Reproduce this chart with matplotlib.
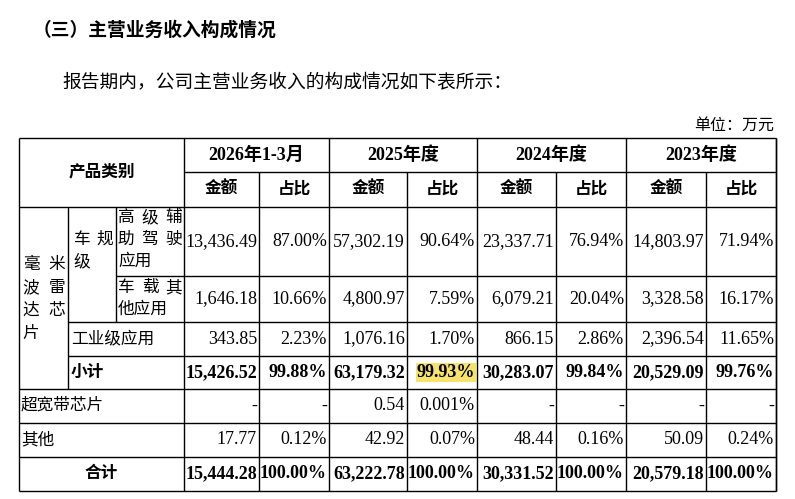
import matplotlib
matplotlib.use('Agg')
import matplotlib.pyplot as plt

FAM = ['Liberation Serif', 'Noto Sans CJK SC', 'DejaVu Sans']
plt.rcParams['font.family'] = FAM

# ─── Data ─────────────────────────────────────────────
periods = ['2026年1-3月', '2025年度', '2024年度', '2023年度']
row_labels = ['高级辅助驾驶应用', '车载其他应用', '工业级应用', '小计', '超宽带芯片', '其他', '合计']
amounts = [
    ['13,436.49', '57,302.19', '23,337.71', '14,803.97'],
    ['1,646.18', '4,800.97', '6,079.21', '3,328.58'],
    ['343.85', '1,076.16', '866.15', '2,396.54'],
    ['15,426.52', '63,179.32', '30,283.07', '20,529.09'],
    ['-', '0.54', '-', '-'],
    ['17.77', '42.92', '48.44', '50.09'],
    ['15,444.28', '63,222.78', '30,331.52', '20,579.18'],
]
shares = [
    ['87.00%', '90.64%', '76.94%', '71.94%'],
    ['10.66%', '7.59%', '20.04%', '16.17%'],
    ['2.23%', '1.70%', '2.86%', '11.65%'],
    ['99.88%', '99.93%', '99.84%', '99.76%'],
    ['-', '0.001%', '-', '-'],
    ['0.12%', '0.07%', '0.16%', '0.24%'],
    ['100.00%', '100.00%', '100.00%', '100.00%'],
]
bold_rows = {3, 6}

fig = plt.figure(figsize=(7.95, 4.99), dpi=100)
ax = fig.add_axes([0, 0, 1, 1])
ax.set_xlim(0, 795)
ax.set_ylim(499, 0)
ax.axis('off')

FS = 13  # numbers
CS = 12  # chinese cells

def txt(x, y, s, ha='center', bold=False, size=CS, **kw):
    ax.text(x, y, s, ha=ha, va='center', fontsize=size,
            fontweight='bold' if bold else 'normal', family=FAM, color='black', **kw)

def line(x0, y0, x1, y1):
    ax.plot([x0, x1], [y0, y1], color='black', lw=1.0, solid_capstyle='butt')

# ─── Headings ─────────────────────────────────────────
txt(33, 30, '（三）主营业务收入构成情况', ha='left', bold=True, size=13.5)
txt(62, 82, '报告期内，公司主营业务收入的构成情况如下表所示：', ha='left', size=13.5)
txt(774, 126, '单位：万元', ha='right', size=11.5)

# ─── Grid geometry ────────────────────────────────────
L, C1, C2, C3 = 19, 68, 116, 184
cols = [184, 259, 329, 407, 477, 556, 626, 706, 776]
R = [138, 172, 207, 276, 322, 356, 389, 423, 457, 491]

line(L, R[0], cols[-1], R[0]); line(L, R[-1], cols[-1], R[-1])
line(L, R[0], L, R[-1]); line(cols[-1], R[0], cols[-1], R[-1])
line(C3, R[1], cols[-1], R[1])
line(L, R[2], cols[-1], R[2])
for i, x in enumerate(cols):
    top = R[0] if i % 2 == 0 else R[1]
    line(x, top, x, R[-1])
line(C2, R[3], cols[-1], R[3])
line(C1, R[4], cols[-1], R[4])
line(C1, R[5], cols[-1], R[5])
for r in (6, 7, 8):
    line(L, R[r], cols[-1], R[r])
line(C1, R[2], C1, R[6])
line(C2, R[2], C2, R[4])

# header text
txt((L + C3) / 2, (R[0] + R[2]) / 2, '产品类别', bold=True)
for k, p in enumerate(periods):
    x0, x1, x2 = cols[2 * k], cols[2 * k + 1], cols[2 * k + 2]
    txt((x0 + x2) / 2, (R[0] + R[1]) / 2, p, bold=True, size=FS)
    txt((x0 + x1) / 2, (R[1] + R[2]) / 2, '金额', bold=True)
    txt((x1 + x2) / 2, (R[1] + R[2]) / 2, '占比', bold=True)

# left label cells
for i, (a, b) in enumerate([('毫', '米'), ('波', '雷'), ('达', '芯'), ('片', '')]):
    y = 265 + i * 23
    txt(31, y, a); txt(57, y, b)
txt(82, 240, '车'); txt(105, 240, '规'); txt(82, 262, '级')
for i, row in enumerate([('高', '级', '辅'), ('助', '驾', '驶')]):
    for j, ch in enumerate(row):
        txt(126 + j * 24, 218 + i * 22, ch)
txt(118, 262, '应用', ha='left')
for j, ch in enumerate(('车', '载', '其')):
    txt(126 + j * 24, 288, ch)
txt(118, 310, '他应用', ha='left')
txt(71, (R[4] + R[5]) / 2, '工业级应用', ha='left')
txt(71, (R[5] + R[6]) / 2, '小计', ha='left', bold=True)
txt(21, (R[6] + R[7]) / 2, '超宽带芯片', ha='left')
txt(21, (R[7] + R[8]) / 2, '其他', ha='left')
txt((L + C3) / 2, (R[8] + R[9]) / 2, '合计', bold=True)

# values
row_y = [(R[2] + R[3]) / 2, (R[3] + R[4]) / 2] + [(R[r] + R[r + 1]) / 2 for r in range(4, 9)]
for i in range(len(amounts)):
    b = i in bold_rows
    for k in range(4):
        y = row_y[i]
        txt(cols[2 * k + 1] - 2, y, amounts[i][k], ha='right', bold=b, size=FS)
        kw = {}
        if i == 3 and k == 1:
            kw['bbox'] = dict(boxstyle='square,pad=0.05', fc='#F7E26B', ec='none')
        txt(cols[2 * k + 2] - 2, y, shares[i][k], ha='right', bold=b, size=FS, **kw)

fig.savefig('out.png', dpi=100, facecolor='white')
